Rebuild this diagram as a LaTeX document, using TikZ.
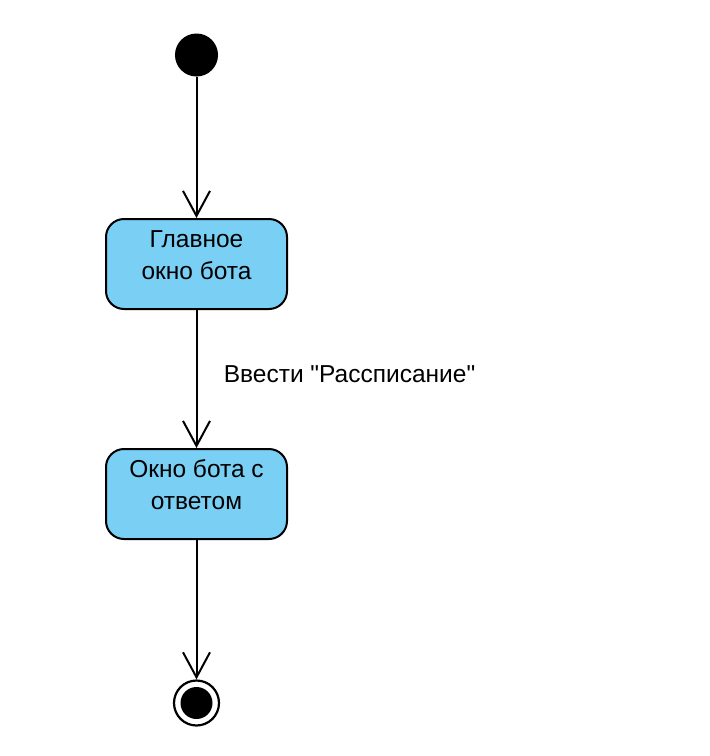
\documentclass[tikz,border=0pt]{standalone}
\usepackage{fontspec}
\setmainfont{Liberation Sans}[Ligatures=TeXOff]
\usetikzlibrary{arrows.meta}
\definecolor{statefill}{RGB}{122,207,245}
\newcommand{\boxtext}[1]{\raisebox{-15pt}[0pt][0pt]{\begin{tabular}[b]{@{}c@{}}#1\end{tabular}}}
\begin{document}
\begin{tikzpicture}[x=1pt,y=-1pt,
  initnode/.style={circle,fill=black,draw=black,line width=1pt,minimum size=42pt,inner sep=0pt},
  statebox/.style={draw=black,line width=2pt,fill=statefill,rounded corners=18pt,
    minimum width=181pt,minimum height=90pt,inner sep=0pt,align=center,
    font=\fontsize{24.5}{32}\selectfont},
  finalnode/.style={circle,draw=black,line width=2.2pt,fill=white,minimum size=45pt,inner sep=0pt,
    path picture={\fill[black] (path picture bounding box.center) circle (16pt);}},
  trans/.style={draw=black,line width=2pt,-{Straight Barb[length=25pt,width=27pt]}},
  lbl/.style={font=\fontsize{24.5}{28}\selectfont,anchor=west}]
\useasboundingbox (0,0) rectangle (710,756);
\node[initnode] (start) at (196.5,55) {};
\node[statebox] (s1) at (196.5,264) {\boxtext{Главное\\окно бота}};
\node[statebox] (s2) at (196.5,494) {\boxtext{Окно бота с\\ответом}};
\node[finalnode] (end) at (196.5,703) {};
\draw[trans] (start) -- (s1);
\draw[trans] (s1) -- node[lbl,xshift=23pt,yshift=5pt] {Ввести "Рассписание"} (s2);
\draw[trans] (s2) -- (end);
\end{tikzpicture}
\end{document}
